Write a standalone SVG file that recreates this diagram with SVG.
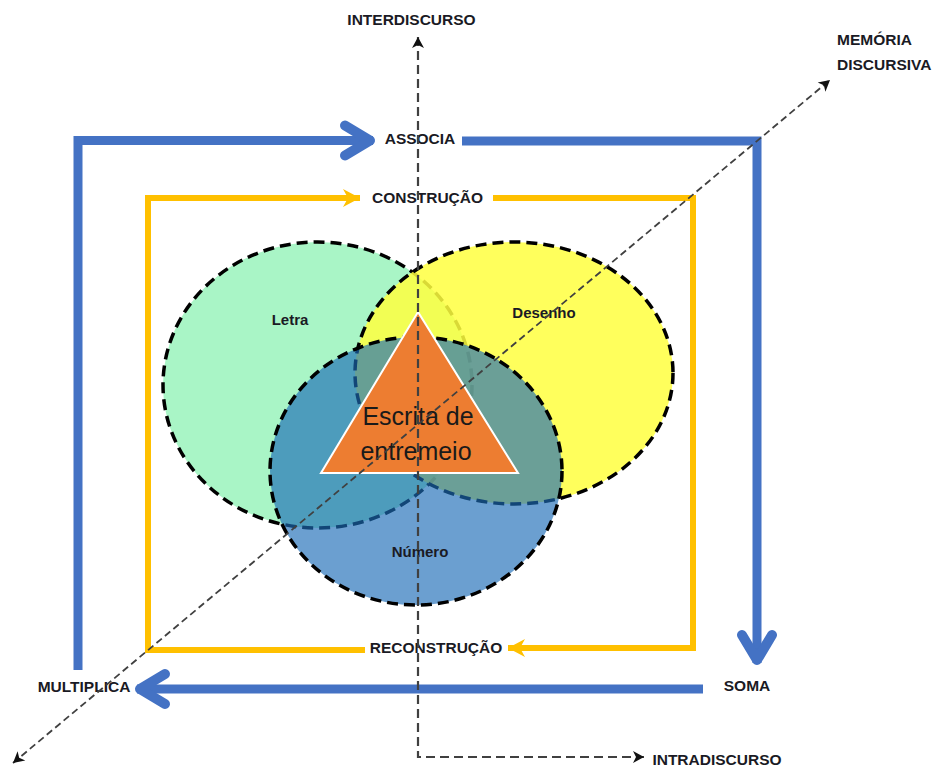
<svg xmlns="http://www.w3.org/2000/svg" width="934" height="767" viewBox="0 0 934 767">
<style>
.lbl{font-family:"Liberation Sans",Arial,sans-serif;font-weight:bold;font-size:15.5px;fill:#1a1a24;text-anchor:middle}
.sm{font-family:"Liberation Sans",Arial,sans-serif;font-weight:bold;font-size:15px;fill:#1a1a24;text-anchor:middle}
.ell{stroke:#000;stroke-width:3.5;stroke-dasharray:11 6}
.blue{fill:none;stroke:#4472c4;stroke-width:9}
.yel{fill:none;stroke:#ffc000;stroke-width:6}
.axis{fill:none;stroke:#404040;stroke-width:2.2;stroke-dasharray:9 5}
</style>
<defs>
<marker id="mBlue" markerUnits="userSpaceOnUse" orient="auto" markerWidth="10" markerHeight="10" refX="0" refY="0" overflow="visible">
<path d="M-28,-15 L-3,0 L-28,15" fill="none" stroke="#4472c4" stroke-width="10" stroke-linecap="round" stroke-linejoin="round"/>
</marker>
<marker id="mYel" markerUnits="userSpaceOnUse" orient="auto" markerWidth="10" markerHeight="10" refX="0" refY="0" overflow="visible">
<path d="M0,0 L-17,-9 L-12,0 L-17,9 Z" fill="#ffc000"/>
</marker>
<marker id="mAx" markerUnits="userSpaceOnUse" orient="auto-start-reverse" markerWidth="10" markerHeight="10" refX="0" refY="0" overflow="visible">
<path d="M0,0 L-11,-6 L-8,0 L-11,6 Z" fill="#111"/>
</marker>
</defs>

<g id="ellipses">
<g id="letra">
<ellipse cx="317.5" cy="385" rx="154.5" ry="143" fill="#a9f5c6" class="ell"/>
</g>
<g id="desenho">
<ellipse cx="514" cy="373" rx="159" ry="131" fill="#ffff40" fill-opacity="0.85" class="ell"/>
</g>
<g id="numero">
<ellipse cx="416" cy="471" rx="146" ry="134" fill="#1c6cb7" fill-opacity="0.65" class="ell"/>
</g>
</g>

<g id="escrita">
<polygon points="418,312 321,473 518,473" fill="#ed7d31" stroke="#ffffff" stroke-width="2"/>
<text x="418" y="425" font-family="Liberation Sans, Arial, sans-serif" font-size="25" fill="#1a1a1a" text-anchor="middle">Escrita de</text>
<text x="416" y="460" font-family="Liberation Sans, Arial, sans-serif" font-size="25" fill="#1a1a1a" text-anchor="middle">entremeio</text>
</g>

<g id="labels">
<text class="sm" x="290" y="325">Letra</text>
<text class="sm" x="544" y="318">Desenho</text>
<text class="sm" x="420" y="557">Número</text>
<text class="lbl" x="411.5" y="25">INTERDISCURSO</text>
<text class="lbl" x="837" y="45" style="text-anchor:start">MEMÓRIA</text>
<text class="lbl" x="837" y="70" style="text-anchor:start">DISCURSIVA</text>
<text class="lbl" x="420" y="144">ASSOCIA</text>
<text class="lbl" x="427.5" y="203">CONSTRUÇÃO</text>
<text class="lbl" x="436" y="653">RECONSTRUÇÃO</text>
<text class="lbl" x="747" y="691">SOMA</text>
<text class="lbl" x="717" y="765">INTRADISCURSO</text>
<text class="lbl" x="84" y="692">MULTIPLICA</text>
</g>

<g id="connectors">
<path class="blue" d="M78,670 L78,140.5 L373,140.5" marker-end="url(#mBlue)"/>
<path class="blue" d="M462,141 L757,141 L757,663" marker-end="url(#mBlue)"/>
<path class="blue" d="M703,689 L137,689" marker-end="url(#mBlue)"/>
<path class="yel" d="M365,650 L148,650 L148,198 L360,198" marker-end="url(#mYel)"/>
<path class="yel" d="M493,198 L693,198 L693,648 L508,648" marker-end="url(#mYel)"/>
<path class="axis" d="M418,37 L418,757 L644,757" marker-start="url(#mAx)" marker-end="url(#mAx)"/>
<path class="axis" d="M13,763 L830,80" marker-start="url(#mAx)" marker-end="url(#mAx)" style="stroke-width:1.8;stroke-dasharray:7 4"/>
</g>
</svg>
